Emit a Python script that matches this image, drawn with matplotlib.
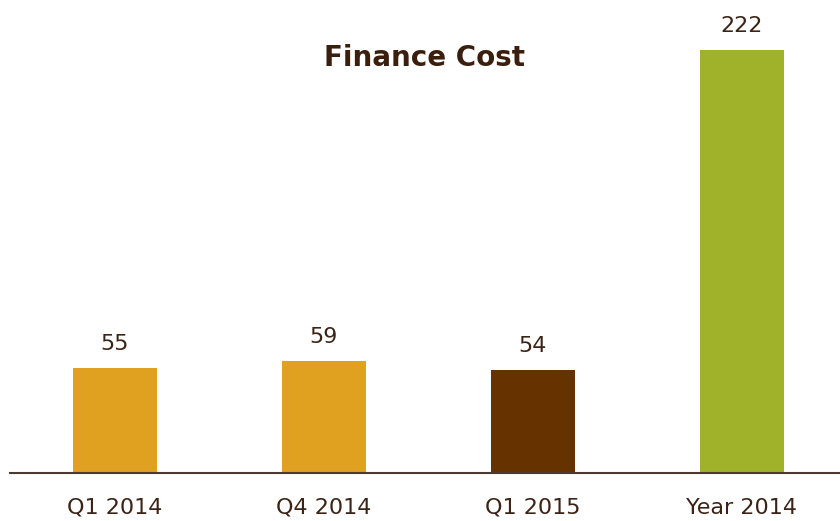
import matplotlib.pyplot as plt

# === Data ===
categories = ['Q1 2014', 'Q4 2014', 'Q1 2015', 'Year 2014']
values = [55, 59, 54, 222]
bar_colors = ['#E0A020', '#E0A020', '#663300', '#A0B22A']
text_color = '#3B2416'

fig = plt.figure(figsize=(8.4, 5.21), dpi=100)
ax = fig.add_axes([10 / 840, 48 / 521, 830 / 840, 473 / 521])

x = range(len(categories))
bars = ax.bar(x, values, width=0.4, color=bar_colors)

for b, v in zip(bars, values):
    ax.annotate(str(v), (b.get_x() + b.get_width() / 2, v),
                xytext=(0, 10), textcoords='offset points',
                ha='center', va='bottom', fontsize=16, color=text_color)

ax.set_xlim(-0.502, 3.469)
ax.set_ylim(0, 248.3)
ax.set_xticks(list(x))
ax.set_xticklabels(categories, fontsize=16, color=text_color)
ax.tick_params(axis='x', length=0, pad=18)
ax.set_yticks([])

for s in ['top', 'right', 'left']:
    ax.spines[s].set_visible(False)
ax.spines['bottom'].set_color('#4A3A30')
ax.spines['bottom'].set_linewidth(1.5)

fig.text(425 / 840, 1 - 58 / 521, 'Finance Cost', ha='center', va='center',
         fontsize=20, fontweight='bold', color='#3B1F0E')

fig.savefig('out.png', dpi=100)
